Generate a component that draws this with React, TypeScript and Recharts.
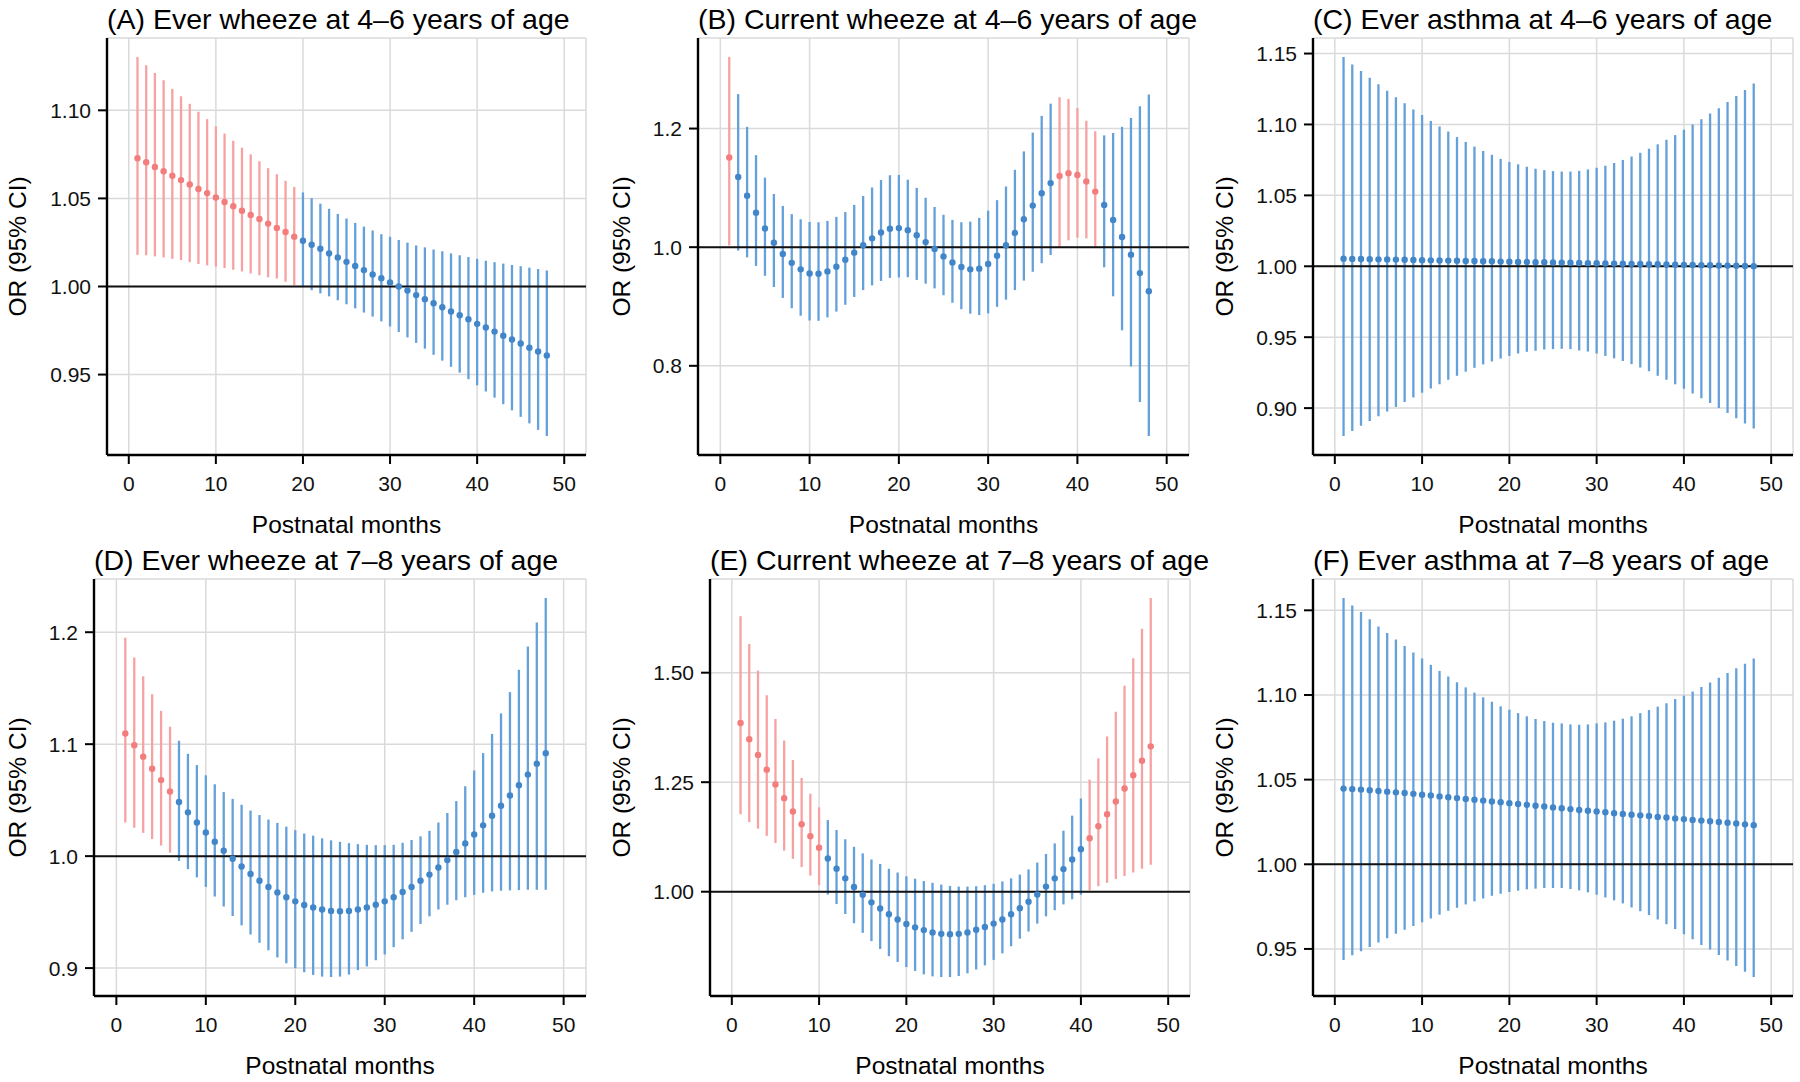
import {
  ComposedChart,
  Scatter,
  ErrorBar,
  XAxis,
  YAxis,
  CartesianGrid,
  ReferenceLine,
} from "recharts";

const FONT = "'Liberation Sans', Arial, Helvetica, sans-serif";

const MONTHS = [
  1, 2, 3, 4, 5, 6, 7, 8, 9, 10, 11, 12, 13, 14, 15, 16, 17, 18, 19, 20, 21, 22, 23, 24,
  25, 26, 27, 28, 29, 30, 31, 32, 33, 34, 35, 36, 37, 38, 39, 40, 41, 42, 43, 44, 45, 46, 47, 48,
];
const X_TICKS = [0, 10, 20, 30, 40, 50];

// (A) ever wheeze 4-6 y
const A_OR = [
  1.0728, 1.0705, 1.0678, 1.0654, 1.0629, 1.0604, 1.0579, 1.0553, 1.053, 1.0505,
  1.048, 1.0456, 1.043, 1.0406, 1.0383, 1.0357, 1.0332, 1.0309, 1.0283, 1.026,
  1.0237, 1.0214, 1.0188, 1.0165, 1.014, 1.0117, 1.0093, 1.0068, 1.0047, 1.0023,
  1.0, 0.9977, 0.9951, 0.9928, 0.9905, 0.9882, 0.9858, 0.9837, 0.9814, 0.9788,
  0.9767, 0.9744, 0.972, 0.9699, 0.9676, 0.9652, 0.9631, 0.9608,
];
const A_LO = [
  1.018, 1.0177, 1.0171, 1.0165, 1.0157, 1.015, 1.0138, 1.0128, 1.012, 1.0113,
  1.0105, 1.0095, 1.0085, 1.0074, 1.0064, 1.0052, 1.0045, 1.0027, 1.0008, 0.9996,
  0.9979, 0.9961, 0.9944, 0.9922, 0.9899, 0.9876, 0.9852, 0.9829, 0.9802, 0.9773,
  0.9742, 0.9711, 0.968, 0.9647, 0.9612, 0.9579, 0.9544, 0.9511, 0.9474, 0.9439,
  0.9404, 0.9369, 0.9332, 0.9297, 0.926, 0.9223, 0.9186, 0.9151,
];
const A_HI = [
  1.1303, 1.1256, 1.1212, 1.1171, 1.1122, 1.108, 1.1037, 1.0992, 1.095, 1.0909,
  1.0868, 1.0827, 1.0788, 1.075, 1.0711, 1.0672, 1.0637, 1.06, 1.0565, 1.0534,
  1.0501, 1.047, 1.0441, 1.0412, 1.0386, 1.0361, 1.034, 1.0318, 1.0297, 1.0282,
  1.0264, 1.0249, 1.0233, 1.0222, 1.021, 1.02, 1.0188, 1.0177, 1.0167, 1.0157,
  1.0146, 1.0138, 1.013, 1.0122, 1.0115, 1.0107, 1.0099, 1.0091,
];
const A_TICKS = [0.95, 1.0, 1.05, 1.1];

// (B) current wheeze 4-6 y
const B_OR = [
  1.1511, 1.1184, 1.0868, 1.058, 1.0316, 1.0075, 0.9885, 0.9736, 0.9626, 0.9557,
  0.9552, 0.9592, 0.9672, 0.9787, 0.9908, 1.0034, 1.0149, 1.0247, 1.031, 1.0322,
  1.0287, 1.0201, 1.0086, 0.9971, 0.9845, 0.9741, 0.9667, 0.9626, 0.9638, 0.9718,
  0.9856, 1.0034, 1.0241, 1.0471, 1.0701, 1.0908, 1.108, 1.1201, 1.1247, 1.1218,
  1.1109, 1.0937, 1.0713, 1.046, 1.0172, 0.9874, 0.9563, 0.9259,
];
const B_LO = [
  1.0029, 0.9943, 0.9828, 0.9684, 0.9517, 0.9328, 0.9144, 0.8971, 0.8845, 0.8764,
  0.8759, 0.8816, 0.8914, 0.9029, 0.9161, 0.9276, 0.9356, 0.9431, 0.9483, 0.9489,
  0.9494, 0.9448, 0.9385, 0.9305, 0.919, 0.9063, 0.8954, 0.8879, 0.8856, 0.8885,
  0.8994, 0.9115, 0.9276, 0.9437, 0.9586, 0.973, 0.9868, 1.001, 1.0115, 1.0161,
  1.0149, 1.001, 0.9661, 0.9172, 0.8598, 0.7989, 0.7391, 0.6816,
];
const B_HI = [
  1.3207, 1.258, 1.2029, 1.1552, 1.1172, 1.0897, 1.0695, 1.0557, 1.0471, 1.0425,
  1.042, 1.0443, 1.0511, 1.0592, 1.0713, 1.0862, 1.1006, 1.1132, 1.1213, 1.1218,
  1.1138, 1.1, 1.0833, 1.0678, 1.0546, 1.046, 1.042, 1.0431, 1.0494, 1.0615,
  1.0793, 1.1023, 1.1305, 1.1615, 1.1931, 1.2213, 1.242, 1.2529, 1.25, 1.2345,
  1.2132, 1.1954, 1.1885, 1.1925, 1.2029, 1.2178, 1.2374, 1.2575,
];
const B_TICKS = [0.8, 1.0, 1.2];

// (C) ever asthma 4-6 y
const C_OR = [
  1.0053, 1.0052, 1.0051, 1.005, 1.0049, 1.0048, 1.0047, 1.0046, 1.0044, 1.0043,
  1.0042, 1.0041, 1.004, 1.0039, 1.0038, 1.0037, 1.0036, 1.0035, 1.0033, 1.0032,
  1.0031, 1.003, 1.0029, 1.0028, 1.0027, 1.0026, 1.0025, 1.0024, 1.0022, 1.0021,
  1.002, 1.0019, 1.0018, 1.0017, 1.0016, 1.0015, 1.0014, 1.0013, 1.0011, 1.001,
  1.0009, 1.0008, 1.0007, 1.0006, 1.0005, 1.0004, 1.0002, 1.0001,
];
const C_LO = [
  0.8803, 0.8839, 0.8875, 0.8909, 0.8942, 0.8976, 0.9007, 0.9043, 0.9075, 0.9108,
  0.9139, 0.9168, 0.92, 0.9228, 0.9257, 0.9284, 0.9308, 0.9329, 0.9349, 0.9368,
  0.9385, 0.9397, 0.9404, 0.9413, 0.9416, 0.9418, 0.9416, 0.9406, 0.9399, 0.9385,
  0.9368, 0.9351, 0.9332, 0.931, 0.9286, 0.926, 0.9228, 0.92, 0.9168, 0.9137,
  0.9103, 0.907, 0.9036, 0.9, 0.8966, 0.8928, 0.8892, 0.8856,
];
const C_HI = [
  1.1476, 1.1423, 1.1377, 1.1329, 1.1284, 1.1238, 1.1192, 1.1149, 1.1106, 1.1067,
  1.1024, 1.0986, 1.095, 1.0911, 1.0877, 1.0844, 1.0813, 1.0786, 1.0757, 1.0736,
  1.0719, 1.0702, 1.0688, 1.0678, 1.0671, 1.0668, 1.0668, 1.0673, 1.0683, 1.0695,
  1.0709, 1.0728, 1.075, 1.0774, 1.08, 1.0829, 1.086, 1.0892, 1.0925, 1.0962,
  1.1, 1.1036, 1.1077, 1.1115, 1.1159, 1.12, 1.1243, 1.1288,
];
const C_TICKS = [0.9, 0.95, 1.0, 1.05, 1.1, 1.15];

// (D) ever wheeze 7-8 y
const D_OR = [
  1.1095, 1.0991, 1.0887, 1.078, 1.0679, 1.0578, 1.0483, 1.0391, 1.03, 1.0211,
  1.0128, 1.0049, 0.9976, 0.9908, 0.9841, 0.978, 0.9725, 0.9676, 0.9633, 0.9596,
  0.9563, 0.9541, 0.9523, 0.9511, 0.9508, 0.9511, 0.9523, 0.9541, 0.9566, 0.9596,
  0.9633, 0.9679, 0.9725, 0.978, 0.9835, 0.9899, 0.9966, 1.0037, 1.0113, 1.0193,
  1.0275, 1.0361, 1.045, 1.0541, 1.0633, 1.0728, 1.0826, 1.092,
];
const D_LO = [
  1.03, 1.0254, 1.0208, 1.0153, 1.0095, 1.0031, 0.9957, 0.9884, 0.981, 0.9725,
  0.9639, 0.955, 0.9465, 0.9382, 0.93, 0.9226, 0.9159, 0.9095, 0.9043, 0.9,
  0.8963, 0.8939, 0.8924, 0.892, 0.8924, 0.8942, 0.8982, 0.9015, 0.907, 0.9122,
  0.9187, 0.9257, 0.9324, 0.9394, 0.9462, 0.9523, 0.9566, 0.9606, 0.9633, 0.9654,
  0.9673, 0.9685, 0.9691, 0.9694, 0.9697, 0.97, 0.97, 0.97,
];
const D_HI = [
  1.1951, 1.1774, 1.1606, 1.1446, 1.1297, 1.1156, 1.1031, 1.0914, 1.0813, 1.0722,
  1.0642, 1.0572, 1.0511, 1.0459, 1.0407, 1.0367, 1.0327, 1.0297, 1.0263, 1.0232,
  1.0202, 1.0183, 1.0159, 1.0141, 1.0128, 1.0116, 1.0107, 1.0101, 1.0098, 1.0098,
  1.0101, 1.0119, 1.0144, 1.0177, 1.0226, 1.03, 1.0385, 1.0492, 1.0624, 1.0765,
  1.092, 1.1092, 1.1275, 1.1465, 1.1664, 1.1872, 1.2086, 1.2306,
];
const D_TICKS = [0.9, 1.0, 1.1, 1.2];

// (E) current wheeze 7-8 y
const E_OR = [
  1.385, 1.3482, 1.3122, 1.2786, 1.2449, 1.2136, 1.1831, 1.1541, 1.1268, 1.1002,
  1.0759, 1.0524, 1.0305, 1.011, 0.993, 0.9757, 0.9617, 0.9484, 0.9366, 0.9264,
  0.9186, 0.9124, 0.9069, 0.9038, 0.903, 0.9038, 0.9069, 0.9131, 0.9194, 0.9272,
  0.9366, 0.9484, 0.9624, 0.9773, 0.9937, 1.0117, 1.0305, 1.0516, 1.0736, 1.097,
  1.1221, 1.1495, 1.1768, 1.2058, 1.2355, 1.266, 1.2989, 1.3318,
];
const E_LO = [
  1.1768, 1.1588, 1.144, 1.1275, 1.1111, 1.0939, 1.0751, 1.0563, 1.0368, 1.0149,
  0.9937, 0.9718, 0.9491, 0.928, 0.9061, 0.8873, 0.8693, 0.8529, 0.8396, 0.8279,
  0.8192, 0.8114, 0.8067, 0.8052, 0.8052, 0.8075, 0.8138, 0.8224, 0.8318, 0.8443,
  0.8592, 0.8756, 0.8928, 0.9092, 0.9272, 0.9437, 0.9577, 0.971, 0.9828, 0.993,
  1.0031, 1.0125, 1.0203, 1.029, 1.036, 1.0438, 1.0524, 1.0618,
];
const E_HI = [
  1.6291, 1.5657, 1.5047, 1.4484, 1.3944, 1.3451, 1.3005, 1.2598, 1.2238, 1.1925,
  1.1635, 1.1408, 1.1197, 1.1025, 1.0876, 1.0736, 1.0634, 1.0524, 1.0438, 1.0352,
  1.0297, 1.0243, 1.0203, 1.0164, 1.0133, 1.0117, 1.0117, 1.0125, 1.0149, 1.018,
  1.0235, 1.0305, 1.0391, 1.0509, 1.0665, 1.0861, 1.1103, 1.1393, 1.1737, 1.2128,
  1.2559, 1.3044, 1.3545, 1.4108, 1.4703, 1.5329, 1.6002, 1.6706,
];
const E_TICKS = [1.0, 1.25, 1.5];

// (F) ever asthma 7-8 y
const F_OR = [
  1.0447, 1.0444, 1.0441, 1.0437, 1.0433, 1.0429, 1.0425, 1.0421, 1.0416, 1.0411,
  1.0406, 1.0401, 1.0396, 1.0391, 1.0386, 1.0381, 1.0376, 1.0371, 1.0366, 1.0361,
  1.0356, 1.0351, 1.0346, 1.0341, 1.0336, 1.0331, 1.0326, 1.0321, 1.0316, 1.0312,
  1.0307, 1.0302, 1.0297, 1.0293, 1.0289, 1.0285, 1.028, 1.0276, 1.0271, 1.0267,
  1.0262, 1.0258, 1.0254, 1.025, 1.0245, 1.0241, 1.0236, 1.0231,
];
const F_LO = [
  0.9435, 0.9462, 0.9486, 0.9512, 0.9538, 0.9563, 0.9589, 0.9613, 0.9636, 0.9658,
  0.968, 0.9702, 0.9725, 0.9743, 0.9763, 0.9781, 0.9798, 0.9814, 0.9826, 0.9836,
  0.9844, 0.9852, 0.9856, 0.986, 0.986, 0.986, 0.9854, 0.9846, 0.9834, 0.982,
  0.9804, 0.9787, 0.9769, 0.9745, 0.9723, 0.97, 0.9674, 0.9646, 0.9617, 0.9587,
  0.9557, 0.9524, 0.9496, 0.9464, 0.9431, 0.9399, 0.9366, 0.9334,
];
const F_HI = [
  1.1573, 1.1528, 1.149, 1.1447, 1.1405, 1.1366, 1.1328, 1.1289, 1.1251, 1.1215,
  1.1178, 1.1142, 1.1109, 1.1075, 1.1045, 1.1014, 1.0986, 1.096, 1.0933, 1.0913,
  1.0893, 1.0874, 1.0858, 1.0846, 1.0836, 1.0832, 1.0826, 1.0824, 1.0826, 1.0832,
  1.0838, 1.0848, 1.086, 1.0874, 1.0893, 1.0911, 1.0931, 1.0951, 1.0976, 1.0996,
  1.102, 1.1047, 1.1073, 1.1101, 1.113, 1.1158, 1.1184, 1.1215,
];
const F_TICKS = [0.95, 1.0, 1.05, 1.1, 1.15];

const RED_LINE = "#f7a2a2";
const RED_DOT = "#f37c7c";
const BLUE_LINE = "#64a0da";
const BLUE_DOT = "#4286ca";

const PANELS = [
  { title: "(A) Ever wheeze at 4–6 years of age", or: A_OR, lo: A_LO, hi: A_HI, ticks: A_TICKS, digits: 2, col: 0, row: 0, axisW: 107, right: 14, labelX: 17 },
  { title: "(B) Current wheeze at 4–6 years of age", or: B_OR, lo: B_LO, hi: B_HI, ticks: B_TICKS, digits: 1, col: 1, row: 0, axisW: 98, right: 11, labelX: 21 },
  { title: "(C) Ever asthma at 4–6 years of age", or: C_OR, lo: C_LO, hi: C_HI, ticks: C_TICKS, digits: 2, col: 2, row: 0, axisW: 113, right: 7, labelX: 24 },
  { title: "(D) Ever wheeze at 7–8 years of age", or: D_OR, lo: D_LO, hi: D_HI, ticks: D_TICKS, digits: 1, col: 0, row: 1, axisW: 94, right: 14, labelX: 17 },
  { title: "(E) Current wheeze at 7–8 years of age", or: E_OR, lo: E_LO, hi: E_HI, ticks: E_TICKS, digits: 2, col: 1, row: 1, axisW: 110, right: 10, labelX: 21 },
  { title: "(F) Ever asthma at 7–8 years of age", or: F_OR, lo: F_LO, hi: F_HI, ticks: F_TICKS, digits: 2, col: 2, row: 1, axisW: 113, right: 7, labelX: 24 },
];

const W = 600;
const H = 541;

const dot = (color: string) => (props: any) =>
  <circle cx={props.cx} cy={props.cy} r={3.2} fill={color} />;

function ORPanel({ p }: { p: (typeof PANELS)[number] }) {
  const rows = MONTHS.map((m, i) => ({
    m,
    or: p.or[i],
    err: [p.or[i] - p.lo[i], p.hi[i] - p.or[i]],
    sig: p.lo[i] > 1 || p.hi[i] < 1,
  }));
  const sig = rows.filter((r) => r.sig);
  const ns = rows.filter((r) => !r.sig);
  const min = Math.min(...p.lo);
  const max = Math.max(...p.hi);
  const pad = (max - min) * 0.05;

  return (
    <div style={{ position: "absolute", left: p.col * W, top: p.row * H, width: W, height: H }}>
      <div
        style={{
          position: "absolute",
          left: p.axisW,
          top: 4,
          fontFamily: FONT,
          fontSize: 28.5,
          lineHeight: "30px",
          whiteSpace: "nowrap",
          color: "#000",
        }}
      >
        {p.title}
      </div>
      <ComposedChart width={W} height={H} margin={{ top: 38, right: p.right, bottom: 0, left: 0 }}>
        <CartesianGrid stroke="#dadada" strokeWidth={1.5} />
        <XAxis
          type="number"
          dataKey="m"
          domain={[-2.5, 52.5]}
          ticks={X_TICKS}
          interval={0}
          allowDataOverflow
          height={86}
          tickSize={9}
          tickMargin={12}
          axisLine={{ stroke: "#000", strokeWidth: 2.4 }}
          tickLine={{ stroke: "#000", strokeWidth: 2 }}
          tick={{ fill: "#111", fontSize: 21, fontFamily: FONT }}
          label={(lp: any) => {
            const vb = lp.viewBox;
            return (
              <text
                x={vb.x + vb.width / 2}
                y={vb.y + 69}
                textAnchor="middle"
                dominantBaseline="central"
                fontSize={24.5}
                fontFamily={FONT}
                fill="#000"
              >
                Postnatal months
              </text>
            );
          }}
        />
        <YAxis
          type="number"
          domain={[min - pad, max + pad]}
          ticks={p.ticks}
          interval={0}
          allowDataOverflow
          width={p.axisW}
          tickSize={9}
          tickMargin={7}
          tickFormatter={(v: number) => v.toFixed(p.digits)}
          axisLine={{ stroke: "#000", strokeWidth: 2.4 }}
          tickLine={{ stroke: "#000", strokeWidth: 2 }}
          tick={{ fill: "#111", fontSize: 21, fontFamily: FONT }}
          label={(lp: any) => {
            const vb = lp.viewBox;
            const cx = vb.x + p.labelX;
            const cy = vb.y + vb.height / 2;
            return (
              <text
                x={cx}
                y={cy}
                transform={`rotate(-90 ${cx} ${cy})`}
                textAnchor="middle"
                dominantBaseline="central"
                fontSize={24.5}
                fontFamily={FONT}
                fill="#000"
              >
                OR (95% CI)
              </text>
            );
          }}
        />
        <Scatter data={ns} dataKey="or" fill={BLUE_DOT} shape={dot(BLUE_DOT)} isAnimationActive={false}>
          <ErrorBar dataKey="err" direction="y" width={0} stroke={BLUE_LINE} strokeWidth={2.3} isAnimationActive={false} />
        </Scatter>
        <Scatter data={sig} dataKey="or" fill={RED_DOT} shape={dot(RED_DOT)} isAnimationActive={false}>
          <ErrorBar dataKey="err" direction="y" width={0} stroke={RED_LINE} strokeWidth={2.3} isAnimationActive={false} />
        </Scatter>
        <ReferenceLine y={1} stroke="#111" strokeWidth={2} />
      </ComposedChart>
    </div>
  );
}

export default function App() {
  return (
    <div style={{ position: "absolute", left: 0, top: 0, width: 1800, height: 1082, background: "#fff" }}>
      {PANELS.map((p) => (
        <ORPanel key={p.title} p={p} />
      ))}
    </div>
  );
}
